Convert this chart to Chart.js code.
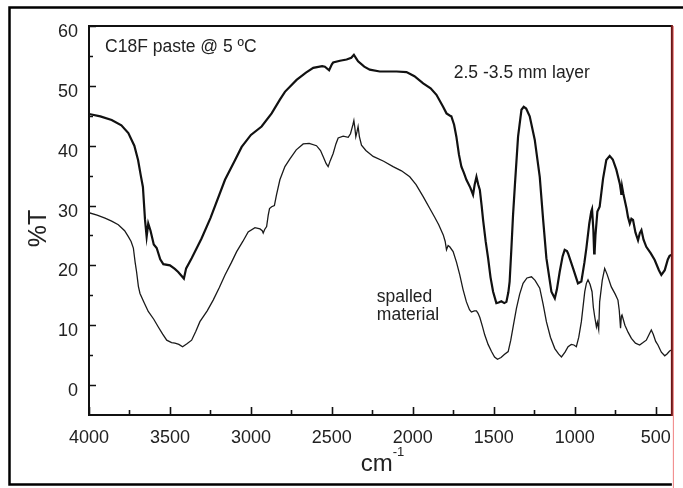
<!DOCTYPE html>
<html>
<head>
<meta charset="utf-8">
<script src="https://cdn.jsdelivr.net/npm/chart.js@4.4.1/dist/chart.umd.min.js"></script>
<style>
  html, body { margin: 0; padding: 0; background: #fff; }
  #wrap { width: 683px; height: 488px; }
</style>
</head>
<body>
<div id="wrap"><canvas id="ir-chart" width="683" height="488"></canvas></div>
<script>
// [wavenumber cm-1, %T]
const layerSpectrum = [
  [4000, 45.3], [3930, 44.9], [3860, 44.3], [3800, 43.4], [3757, 42.1], [3720, 40.0],
  [3697, 37.6], [3680, 35.0], [3667, 33.1], [3654, 27.6], [3644, 24.8], [3634, 27.0],
  [3620, 25.8], [3600, 23.5], [3582, 22.9], [3560, 21.0], [3541, 20.2], [3500, 20.0],
  [3470, 19.4], [3449, 18.9], [3414, 17.8], [3400, 19.5], [3366, 21.2], [3305, 24.5],
  [3250, 27.9], [3160, 34.3], [3100, 37.5], [3057, 39.8], [3000, 41.8], [2934, 43.2],
  [2872, 45.4], [2821, 47.7], [2790, 49.0], [2718, 51.0], [2660, 52.2], [2615, 53.0],
  [2560, 53.3], [2543, 53.2], [2517, 52.6], [2500, 53.6], [2492, 53.9], [2450, 54.2],
  [2409, 54.4], [2380, 54.7], [2364, 55.2], [2350, 54.6], [2338, 54.1], [2300, 53.2],
  [2266, 52.7], [2204, 52.4], [2100, 52.4], [2039, 52.3], [1990, 51.6], [1936, 50.4],
  [1890, 49.6], [1854, 48.5], [1813, 46.5], [1792, 45.4], [1770, 45.0], [1762, 44.9],
  [1745, 43.5], [1731, 41.5], [1715, 38.5], [1700, 36.5], [1685, 35.5], [1669, 34.3],
  [1645, 33.0], [1628, 31.8], [1618, 33.5], [1607, 34.8], [1596, 33.5], [1586, 32.6],
  [1575, 30.0], [1566, 27.6], [1550, 24.0], [1535, 21.2], [1520, 18.0], [1504, 15.6],
  [1484, 13.7], [1470, 13.8], [1453, 14.0], [1435, 13.7], [1422, 13.9], [1410, 15.5],
  [1402, 17.3], [1391, 22.9], [1381, 28.4], [1370, 33.2], [1350, 41.5], [1329, 46.0],
  [1315, 46.5], [1300, 46.2], [1278, 44.9], [1247, 41.0], [1216, 34.8], [1195, 27.6],
  [1175, 21.2], [1144, 15.6], [1123, 14.5], [1110, 16.0], [1093, 18.9], [1075, 21.5],
  [1062, 22.6], [1048, 22.4], [1041, 22.0], [1010, 19.5], [980, 17.0], [959, 17.3],
  [940, 20.5], [928, 22.9], [910, 27.0], [898, 29.0], [893, 29.4], [885, 26.0],
  [880, 22.0], [877, 22.3], [872, 25.0], [860, 29.0], [846, 29.8], [825, 34.5],
  [805, 37.6], [784, 38.3], [765, 37.7], [743, 36.0], [722, 33.7], [715, 32.5],
  [712, 31.8], [708, 33.2], [700, 32.0], [680, 29.5], [671, 28.1], [660, 27.0],
  [650, 27.8], [640, 27.6], [625, 25.5], [609, 24.2], [598, 25.4], [588, 25.9],
  [575, 24.3], [558, 23.1], [530, 22.0], [506, 20.9], [480, 19.2], [465, 18.4],
  [444, 19.2], [425, 21.0], [414, 21.6], [400, 21.8]
];

const spalledSpectrum = [
  [4000, 28.8], [3950, 28.4], [3901, 27.9], [3860, 27.4], [3819, 26.8], [3780, 25.8],
  [3757, 24.8], [3740, 24.0], [3726, 22.9], [3715, 20.5], [3706, 18.9], [3695, 16.5],
  [3685, 15.3], [3660, 13.8], [3634, 12.3], [3600, 11.0], [3572, 9.7], [3545, 8.5],
  [3520, 7.5], [3490, 7.1], [3469, 7.0], [3445, 6.8], [3422, 6.4], [3395, 6.9],
  [3366, 7.5], [3340, 9.0], [3315, 10.6], [3270, 12.4], [3233, 14.2], [3195, 16.3],
  [3160, 18.4], [3120, 20.5], [3088, 22.3], [3050, 24.0], [3017, 25.6], [2975, 26.3],
  [2944, 26.1], [2930, 25.8], [2924, 25.4], [2915, 26.0], [2903, 26.5], [2893, 28.4],
  [2885, 29.5], [2872, 29.8], [2855, 30.0], [2842, 31.8], [2821, 34.3], [2790, 36.5],
  [2759, 37.8], [2720, 39.3], [2677, 40.3], [2640, 40.4], [2595, 40.0], [2570, 39.2],
  [2554, 38.2], [2535, 37.0], [2523, 36.5], [2510, 37.5], [2492, 38.7], [2475, 40.3],
  [2461, 41.3], [2430, 41.6], [2399, 41.4], [2385, 42.0], [2379, 42.6], [2370, 43.5],
  [2364, 44.2], [2358, 43.0], [2352, 41.5], [2345, 42.3], [2338, 43.2], [2330, 41.5],
  [2317, 40.1], [2290, 39.2], [2245, 38.2], [2180, 37.4], [2122, 36.5], [2070, 35.8],
  [2019, 34.8], [1980, 33.5], [1936, 31.5], [1895, 29.5], [1864, 28.0], [1840, 26.8],
  [1812, 25.1], [1800, 24.0], [1792, 22.6], [1782, 23.3], [1772, 23.1], [1751, 22.3],
  [1730, 20.5], [1710, 18.4], [1690, 16.0], [1669, 13.9], [1650, 12.6], [1638, 12.2],
  [1620, 12.4], [1607, 12.4], [1597, 12.0], [1586, 11.3], [1570, 9.8], [1556, 8.4],
  [1535, 6.8], [1514, 5.6], [1495, 4.7], [1477, 4.3], [1455, 4.6], [1435, 5.1],
  [1411, 5.6], [1395, 7.5], [1380, 9.8], [1360, 12.8], [1340, 15.2], [1319, 17.0],
  [1295, 17.9], [1267, 18.1], [1245, 17.5], [1216, 16.2], [1195, 13.5], [1175, 10.6],
  [1150, 8.0], [1123, 6.1], [1100, 5.2], [1082, 4.7], [1060, 5.5], [1041, 6.4],
  [1021, 6.8], [1005, 6.7], [990, 6.4], [975, 8.0], [959, 10.6], [938, 15.6],
  [928, 17.0], [918, 17.6], [905, 16.8], [893, 15.6], [885, 13.0], [877, 11.5],
  [866, 9.7], [860, 10.5], [852, 9.3], [846, 13.9], [830, 17.5], [815, 19.5],
  [800, 18.5], [774, 16.4], [750, 15.2], [733, 14.2], [725, 12.5], [717, 9.5],
  [712, 11.5], [708, 11.7], [690, 10.0], [670, 8.8], [650, 7.8], [625, 7.0],
  [599, 6.7], [578, 7.1], [558, 7.5], [540, 8.5], [527, 9.2], [515, 8.5],
  [500, 7.3], [486, 6.7], [465, 5.5], [444, 4.9], [430, 5.2], [414, 5.7], [400, 5.9]
];

const xTickValues = [4000, 3500, 3000, 2500, 2000, 1500, 1000, 500];
const xMinorTicks = [3750, 3250, 2750, 2250, 1750, 1250, 750];
const yTickValues = [0, 10, 20, 30, 40, 50, 60];
const yMinorTicks = [5, 15, 25, 35, 45, 55];

// text notes placed in data units
const notes = [
  { lines: ['C18F paste @ 5 \u00baC'], x: 3901, y: 56.4 },
  { lines: ['2.5 -3.5 mm layer'], x: 1747, y: 52.1 },
  { lines: ['spalled', 'material'], x: 2222, y: 14.7 }
];

const FONT = '"Liberation Sans", Arial, Helvetica, sans-serif';

const toPoints = arr => arr.map(p => ({ x: p[0], y: p[1] }));

const framePlugin = {
  id: 'frame',
  afterDraw(chart) {
    const { ctx, chartArea: a, scales: { x, y } } = chart;
    ctx.save();

    // outer border of the figure
    ctx.strokeStyle = '#000';
    ctx.lineWidth = 2.5;
    ctx.beginPath();
    ctx.moveTo(chart.width, 7.5);
    ctx.lineTo(9.5, 7.5);
    ctx.lineTo(9.5, 484.5);
    ctx.lineTo(a.right, 484.5);
    ctx.stroke();

    // pink rule running down the right side
    ctx.strokeStyle = '#f08080';
    ctx.lineWidth = 1;
    ctx.beginPath();
    ctx.moveTo(a.right + 1.5, a.top);
    ctx.lineTo(a.right + 1.5, chart.height);
    ctx.stroke();

    // plot box
    ctx.strokeStyle = '#111';
    ctx.lineWidth = 2;
    ctx.beginPath();
    ctx.moveTo(a.right, a.top);
    ctx.lineTo(a.left, a.top);
    ctx.lineTo(a.left, a.bottom);
    ctx.lineTo(a.right, a.bottom);
    ctx.stroke();
    ctx.strokeStyle = '#6e1414';
    ctx.beginPath();
    ctx.moveTo(a.right, a.top - 1);
    ctx.lineTo(a.right, a.bottom + 1);
    ctx.stroke();

    // ticks pointing into the plot
    ctx.strokeStyle = '#111';
    ctx.lineWidth = 1.6;
    ctx.beginPath();
    xTickValues.forEach(v => {
      const px = Math.round(x.getPixelForValue(v)) + 0.5;
      ctx.moveTo(px, a.bottom); ctx.lineTo(px, a.bottom - 8);
    });
    xMinorTicks.forEach(v => {
      const px = Math.round(x.getPixelForValue(v)) + 0.5;
      ctx.moveTo(px, a.bottom); ctx.lineTo(px, a.bottom - 5);
    });
    yTickValues.forEach(v => {
      const py = Math.round(y.getPixelForValue(v)) + 0.5;
      ctx.moveTo(a.left, py); ctx.lineTo(a.left + 7, py);
    });
    yMinorTicks.forEach(v => {
      const py = Math.round(y.getPixelForValue(v)) + 0.5;
      ctx.moveTo(a.left, py); ctx.lineTo(a.left + 4, py);
    });
    ctx.stroke();

    // notes
    ctx.fillStyle = '#222';
    ctx.font = '17.5px ' + FONT;
    ctx.textAlign = 'left';
    ctx.textBaseline = 'middle';
    notes.forEach(n => {
      const px = x.getPixelForValue(n.x);
      const py = y.getPixelForValue(n.y);
      n.lines.forEach((t, i) => ctx.fillText(t, px, py + i * 18.5));
    });

    // y axis title
    ctx.save();
    ctx.translate(39, (a.top + a.bottom) / 2 + 8);
    ctx.rotate(-Math.PI / 2);
    ctx.textAlign = 'center';
    ctx.font = '25px ' + FONT;
    ctx.fillText('%T', 0, 0);
    ctx.restore();

    // x axis title with superscript
    const cx = (a.left + a.right) / 2 + 2;
    const cy = a.bottom + 49;
    ctx.font = '24px ' + FONT;
    const w1 = ctx.measureText('cm').width;
    ctx.font = '13px ' + FONT;
    const w2 = ctx.measureText('-1').width;
    const start = cx - (w1 + w2) / 2;
    ctx.font = '24px ' + FONT;
    ctx.fillText('cm', start, cy);
    ctx.font = '13px ' + FONT;
    ctx.fillText('-1', start + w1, cy - 12);

    ctx.restore();
  }
};

const chart = new Chart(document.getElementById('ir-chart'), {
  type: 'line',
  data: {
    datasets: [
      {
        label: '2.5 -3.5 mm layer',
        data: toPoints(layerSpectrum),
        borderColor: '#111',
        borderWidth: 2.2,
        pointRadius: 0,
        tension: 0
      },
      {
        label: 'spalled material',
        data: toPoints(spalledSpectrum),
        borderColor: '#1a1a1a',
        borderWidth: 1.3,
        pointRadius: 0,
        tension: 0
      }
    ]
  },
  options: {
    responsive: false,
    animation: false,
    layout: { padding: { top: 26, right: 11, left: 0, bottom: 0 } },
    plugins: {
      legend: { display: false },
      tooltip: { enabled: false }
    },
    scales: {
      x: {
        type: 'linear',
        reverse: true,
        min: 400,
        max: 4000,
        afterBuildTicks: s => { s.ticks = xTickValues.map(v => ({ value: v })); },
        afterFit: s => { s.height = 73; },
        grid: { display: false, drawTicks: false },
        border: { display: false },
        ticks: {
          autoSkip: false,
          maxRotation: 0,
          padding: 12,
          color: '#222',
          font: { family: FONT, size: 18 },
          callback: v => String(v)
        }
      },
      y: {
        min: -5,
        max: 60,
        afterBuildTicks: s => { s.ticks = yTickValues.map(v => ({ value: v })); },
        afterFit: s => { s.width = 89; },
        grid: { display: false, drawTicks: false },
        border: { display: false },
        ticks: {
          padding: 11,
          labelOffset: 6,
          color: '#222',
          font: { family: FONT, size: 18 },
          callback: v => String(v)
        }
      }
    }
  },
  plugins: [framePlugin]
});
</script>
</body>
</html>
